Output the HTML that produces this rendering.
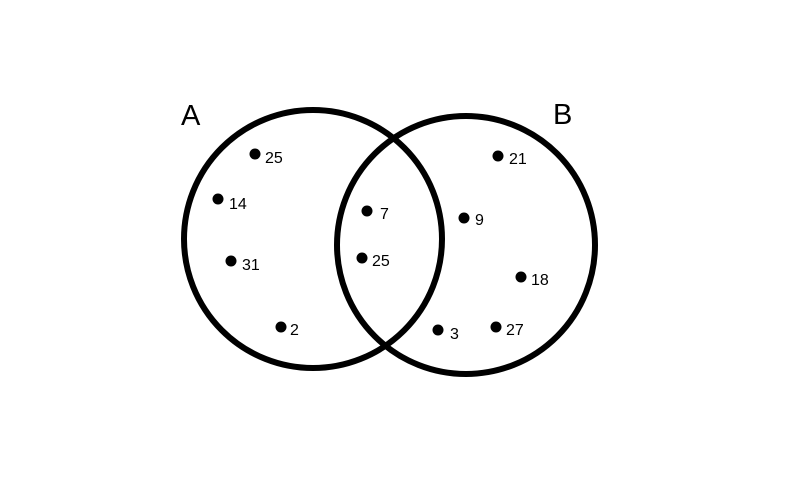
<!DOCTYPE html>
<html><head><style>html,body{margin:0;padding:0;background:#fff}</style></head><body>
<svg width="793" height="476" viewBox="0 0 793 476" xmlns="http://www.w3.org/2000/svg" font-family="Liberation Sans, sans-serif">
<rect width="793" height="476" fill="#fff"/>
<circle cx="313" cy="239" r="129" fill="none" stroke="#000" stroke-width="6"/>
<circle cx="466" cy="245" r="129" fill="none" stroke="#000" stroke-width="6"/>
<text x="181" y="125" font-size="29">A</text>
<text x="553" y="124" font-size="29">B</text>
<g fill="#000">
<circle cx="255" cy="154" r="5.5"/><circle cx="218" cy="199" r="5.5"/><circle cx="231" cy="261" r="5.5"/><circle cx="281" cy="327" r="5.5"/>
<circle cx="367" cy="211" r="5.5"/><circle cx="362" cy="258" r="5.5"/>
<circle cx="498" cy="156" r="5.5"/><circle cx="464" cy="218" r="5.5"/><circle cx="521" cy="277" r="5.5"/><circle cx="438" cy="330" r="5.5"/><circle cx="496" cy="327" r="5.5"/>
</g>
<g font-size="16" fill="#000">
<text x="265" y="163">25</text><text x="229" y="209">14</text><text x="242" y="270">31</text><text x="290" y="335">2</text>
<text x="380" y="219">7</text><text x="372" y="266">25</text>
<text x="509" y="164">21</text><text x="475" y="225">9</text><text x="531" y="285">18</text><text x="450" y="339">3</text><text x="506" y="335">27</text>
</g>
</svg>
</body></html>
